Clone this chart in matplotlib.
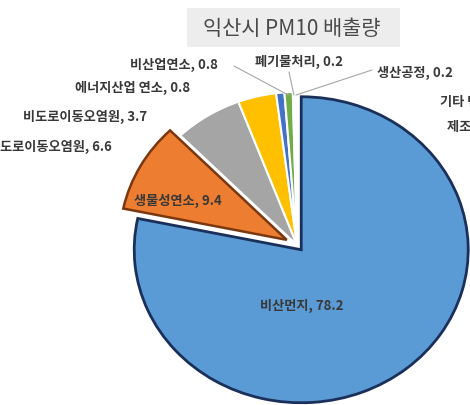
import numpy as np
import matplotlib
matplotlib.use("Agg")
import matplotlib.pyplot as plt
from matplotlib.patches import Rectangle

plt.rcParams['font.family'] = ['Noto Sans CJK KR', 'DejaVu Sans']

# PM10 emissions by source, Iksan (%)
sources = ['비산먼지', '생물성연소', '도로이동오염원', '비도로이동오염원',
           '에너지산업 연소', '비산업연소', '폐기물처리', '생산공정',
           '기타 면오염원', '제조업 연소']
shares = [78.2, 9.4, 6.6, 3.7, 0.8, 0.8, 0.2, 0.2, 0.0, 0.0]
colors = ['#5B9BD5', '#ED7D31', '#A5A5A5', '#FFC000', '#4472C4',
          '#70AD47', '#255E91', '#9E480E', '#636363', '#997300']
explode = [0.04, 0.07, 0, 0, 0, 0, 0, 0, 0, 0]

W, H = 470, 405


def fig_xy(px, py):
    # pixel position (top-left origin) -> figure fraction
    return px / W, 1 - py / H


fig = plt.figure(figsize=(W / 100, H / 100), dpi=100)
ax = fig.add_axes([0, 0, 1, 1])

wedges, _ = ax.pie(shares, colors=colors, explode=explode, startangle=90,
                   counterclock=False,
                   wedgeprops=dict(edgecolor='white', linewidth=1.5))
wedges[0].set_edgecolor('#1A2F5A')
wedges[0].set_linewidth(2.0)
wedges[1].set_edgecolor('#7A3810')
wedges[1].set_linewidth(1.8)

# the pie is drawn a little wider than tall
cx, cy, rx, ry = 297, 245, 167, 153
ax.set_aspect('auto')
ax.set_xlim(-cx / rx, (W - cx) / rx)
ax.set_ylim(-(H - cy) / ry, cy / ry)
ax.axis('off')

# title in a light grey box
fig.add_artist(Rectangle(fig_xy(187, 47), 213 / W, 39 / H,
                         transform=fig.transFigure, facecolor='#EDEDED',
                         edgecolor='none'))
fig.text(*fig_xy(292, 29), '익산시 PM10 배출량', ha='center', va='center',
         fontsize=15, color='#4A4A4A')

# label anchors (left edge / centre, pixels)
label_pos = {
    '비산먼지': (302, 306, 'center'),
    '생물성연소': (178, 201, 'center'),
    '도로이동오염원': (0, 147, 'left'),
    '비도로이동오염원': (23, 117, 'left'),
    '에너지산업 연소': (75, 88, 'left'),
    '비산업연소': (130, 65, 'left'),
    '폐기물처리': (255, 62, 'left'),
    '생산공정': (377, 73, 'left'),
    '기타 면오염원': (440, 102, 'left'),
    '제조업 연소': (447, 127, 'left'),
}
for name, val in zip(sources, shares):
    px, py, ha = label_pos[name]
    fig.text(*fig_xy(px, py), f'{name}, {val}', ha=ha, va='center',
             fontsize=9.5, fontweight='bold', color='#383838')

# leader lines from the small slices to their labels
leaders = {'비산업연소': (234, 66), '폐기물처리': (289, 72), '생산공정': (372, 70)}
for name, (px, py) in leaders.items():
    w = wedges[sources.index(name)]
    mid = np.deg2rad((w.theta1 + w.theta2) / 2)
    ax.annotate('', xy=(np.cos(mid) * 0.98, np.sin(mid) * 0.98),
                xytext=fig_xy(px, py), textcoords='figure fraction',
                arrowprops=dict(arrowstyle='-', color='#A6A6A6', lw=0.8,
                                shrinkA=0, shrinkB=0))

fig.savefig('out.png', dpi=100)
